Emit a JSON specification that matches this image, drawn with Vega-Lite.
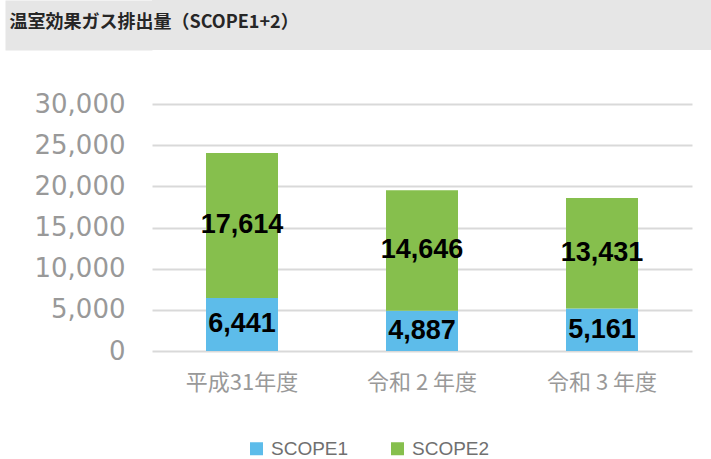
{
  "$schema": "https://vega.github.io/schema/vega-lite/v6.json",
  "padding": {"left": 5, "top": 0, "right": 0, "bottom": 0},
  "background": "white",
  "spacing": 38,
  "config": {"view": {"stroke": null}, "font": "Noto Sans CJK JP"},
  "vconcat": [
    {
      "width": 559,
      "height": 50,
      "view": {"fill": "#e6e6e6", "stroke": null},
      "data": {"values": [{"a": 0}]},
      "mark": {"type": "point", "opacity": 0},
      "encoding": {
        "y": {
          "field": "a",
          "type": "quantitative",
          "scale": {"domain": [0, 1]},
          "axis": {
            "title": "温室効果ガス排出量（SCOPE1+2）",
            "titleAngle": 0,
            "titleAlign": "left",
            "titleBaseline": "middle",
            "titleX": -69.5,
            "titleY": 22,
            "titleFont": "Noto Sans CJK JP",
            "titleFontSize": 18,
            "titleFontWeight": "bold",
            "titleColor": "#262626",
            "labels": false,
            "ticks": false,
            "grid": false,
            "domain": true,
            "domainColor": "#e6e6e6",
            "domainWidth": 147,
            "domainCap": "butt",
            "offset": 73.5
          }
        }
      }
    },
    {
      "width": 540,
      "height": 247,
      "data": {
        "values": [
          {"year": "平成31年度", "scope": "SCOPE1", "value": 6441},
          {"year": "平成31年度", "scope": "SCOPE2", "value": 17614},
          {"year": "令和 2 年度", "scope": "SCOPE1", "value": 4887},
          {"year": "令和 2 年度", "scope": "SCOPE2", "value": 14646},
          {"year": "令和 3 年度", "scope": "SCOPE1", "value": 5161},
          {"year": "令和 3 年度", "scope": "SCOPE2", "value": 13431}
        ]
      },
      "transform": [
        {"stack": "value", "groupby": ["year"], "sort": [{"field": "scope", "order": "ascending"}], "as": ["v0", "v1"]},
        {"calculate": "(datum.v0 + datum.v1) / 2", "as": "mid"}
      ],
      "encoding": {
        "x": {
          "field": "year",
          "type": "nominal",
          "sort": null,
          "scale": {"paddingInner": 0.6, "paddingOuter": 0.3},
          "axis": {
            "title": null,
            "labelAngle": 0,
            "domain": false,
            "ticks": false,
            "labelFont": "Noto Sans CJK JP",
            "labelFontSize": 22,
            "labelColor": "#999999",
            "labelPadding": 21
          }
        }
      },
      "layer": [
        {
          "mark": {"type": "bar"},
          "encoding": {
            "y": {
              "field": "v1",
              "type": "quantitative",
              "scale": {"domain": [0, 30000], "nice": false},
              "axis": {
                "title": null,
                "values": [0, 5000, 10000, 15000, 20000, 25000, 30000],
                "format": ",.0f",
                "domain": false,
                "ticks": false,
                "labelFont": "DejaVu Sans",
                "labelFontSize": 26,
                "labelColor": "#999999",
                "labelPadding": 27,
                "gridColor": "#d9d9d9",
                "gridWidth": 2,
                "minExtent": 147
              }
            },
            "y2": {"field": "v0"},
            "color": {
              "field": "scope",
              "type": "nominal",
              "scale": {"domain": ["SCOPE1", "SCOPE2"], "range": ["#5dbcea", "#86bf4d"]},
              "legend": {
                "orient": "none",
                "legendX": 95,
                "legendY": 439,
                "direction": "horizontal",
                "title": null,
                "symbolType": "square",
                "symbolSize": 169,
                "symbolStrokeWidth": 0,
                "labelFont": "Liberation Sans",
                "labelFontSize": 19,
                "labelColor": "#707070",
                "labelOffset": 5,
                "columnPadding": 39
              }
            }
          }
        },
        {
          "mark": {"type": "text", "font": "Liberation Sans", "fontSize": 27, "fontWeight": "bold", "color": "#000000"},
          "encoding": {
            "y": {
              "field": "mid",
              "type": "quantitative",
              "axis": {
                "title": null,
                "values": [0, 5000, 10000, 15000, 20000, 25000, 30000],
                "format": ",.0f",
                "domain": false,
                "ticks": false,
                "labelFont": "DejaVu Sans",
                "labelFontSize": 26,
                "labelColor": "#999999",
                "labelPadding": 27,
                "gridColor": "#d9d9d9",
                "gridWidth": 2,
                "minExtent": 147
              }
            },
            "text": {"field": "value", "type": "quantitative", "format": ","}
          }
        }
      ]
    }
  ]
}
